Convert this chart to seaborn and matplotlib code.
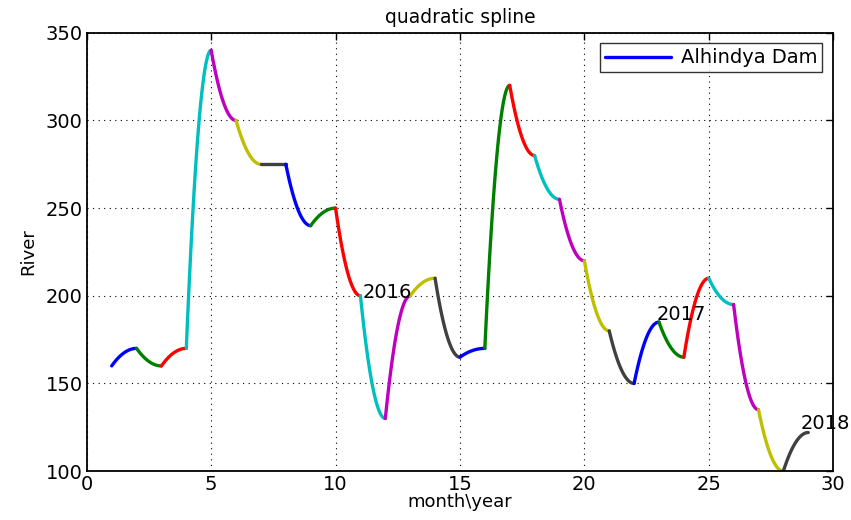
import numpy as np
import pandas as pd
import seaborn as sns
import matplotlib.pyplot as plt
from matplotlib.lines import Line2D

# monthly knots (month index 1..29)
months = list(range(1, 30))
river = [160, 170, 160, 170, 340, 300, 275, 275, 240, 250,
         200, 130, 200, 210, 165, 170, 320, 280, 255, 220,
         180, 150, 185, 165, 210, 195, 135, 100, 122]

# MATLAB default line colour order (b g r c m y k)
seg_colors = ['#0000ff', '#008000', '#ff0000', '#00bfbf',
              '#bf00bf', '#bfbf00', '#404040']

year_labels = ['2016', '2017', '2018']
year_pos = [(11.1, 199), (22.9, 186), (28.7, 124)]

# quadratic piece per interval, flat at the right knot
rows = []
t = np.linspace(0, 1, 40)
for i in range(len(months) - 1):
    x0, x1 = months[i], months[i + 1]
    y0, y1 = river[i], river[i + 1]
    xs = x0 + (x1 - x0) * t
    ys = y1 - (y1 - y0) * (1 - t) ** 2
    for a, b in zip(xs, ys):
        rows.append((a, b, i))
df = pd.DataFrame(rows, columns=['month', 'river', 'seg'])

sns.set_style('white')
plt.rcParams['font.family'] = ['DejaVu Sans']
plt.rcParams['text.color'] = 'black'
plt.rcParams['axes.labelcolor'] = 'black'

fig = plt.figure(figsize=(8.51, 5.20), dpi=100)
ax = fig.add_axes([0.102, 0.094, 0.877, 0.843])

palette = [seg_colors[i % len(seg_colors)] for i in range(len(months) - 1)]
sns.lineplot(data=df, x='month', y='river', hue='seg', palette=palette,
             estimator=None, sort=False, legend=False, linewidth=2.4, ax=ax)

for lab, (px, py) in zip(year_labels, year_pos):
    ax.text(px, py, lab, fontsize=14, va='baseline', ha='left', color='black')

ax.set_xlim(0, 30)
ax.set_ylim(100, 350)
ax.set_xticks(range(0, 31, 5))
ax.set_yticks(range(100, 351, 50))
ax.grid(True, color='black', linestyle=(0, (1, 4)), linewidth=0.8)
ax.tick_params(direction='in', length=5, width=1, top=True, right=True,
               labelsize=14, colors='black', pad=3)
for s in ax.spines.values():
    s.set_visible(True)
    s.set_color('black')
    s.set_linewidth(1.3)

ax.set_title('quadratic spline', fontsize=13.5, pad=7, color='black')
ax.set_xlabel('month\\year', fontsize=13, labelpad=-1)
ax.set_ylabel('River', fontsize=13, labelpad=6)

handle = Line2D([], [], color='#0000ff', linewidth=2.4)
leg = ax.legend([handle], ['Alhindya Dam'], loc='upper right', fontsize=14,
                frameon=True, fancybox=False, borderaxespad=0.55,
                handlelength=3.4, handletextpad=0.5, borderpad=0.25,
                labelcolor='black')
leg.get_frame().set_edgecolor('black')
leg.get_frame().set_linewidth(1.0)

fig.savefig('out.png', dpi=100)
